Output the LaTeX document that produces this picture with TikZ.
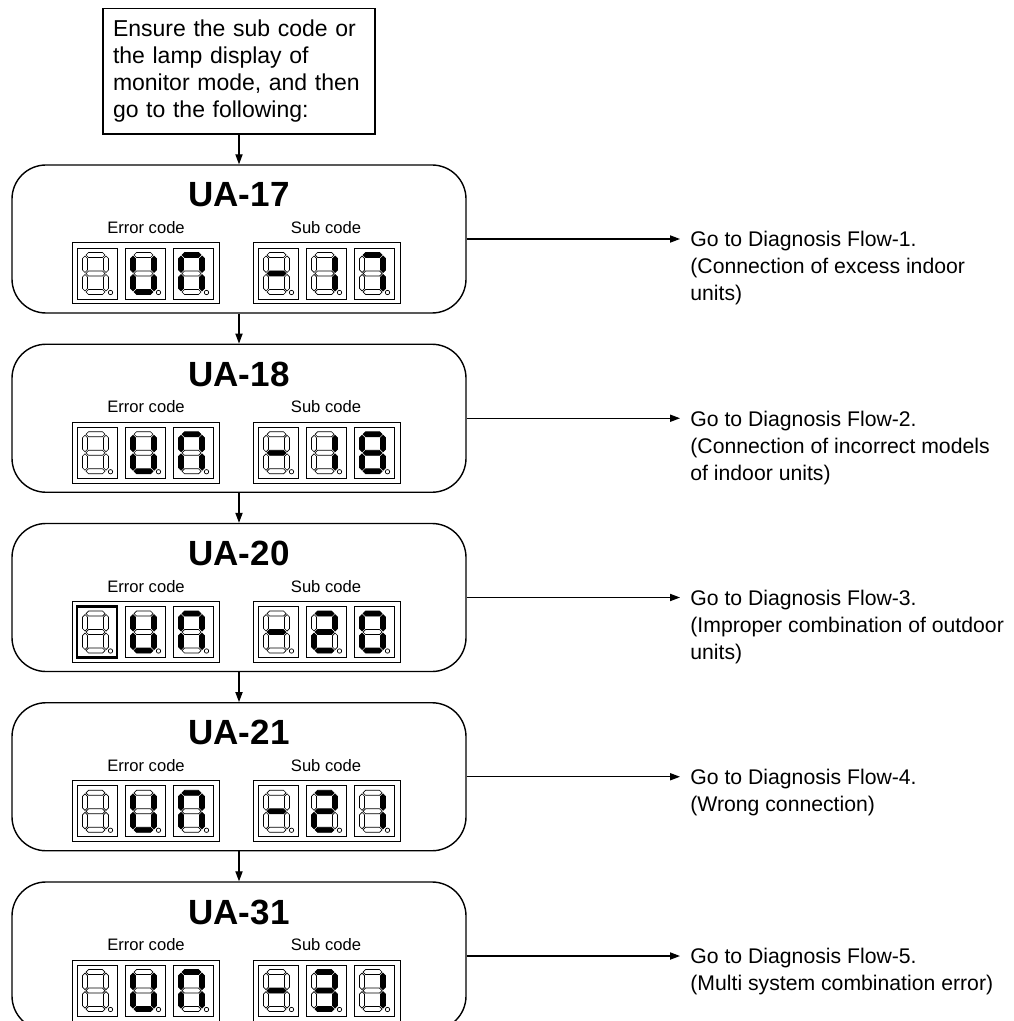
\documentclass[tikz,border=0pt]{standalone}
\usepackage{fontspec}
\setmainfont{Liberation Sans}
\usetikzlibrary{arrows.meta,positioning}

\tikzset{
  seg0/.style={draw=black, line width=0.35pt},
  seg1/.style={fill=black, draw=black, line width=0.35pt},
  digitframe/.style={line width=0.45pt},
}

% one segment of a seven segment digit (#1 = 0 off, 1 on)
\newcommand{\segH}[2]{\path[seg#1] (9,#2) -- ++(2.5,-2.5) -- ++(14,0) -- ++(2.5,2.5) -- ++(-2.5,2.5) -- ++(-14,0) -- cycle;}
\newcommand{\segV}[3]{\path[seg#1] (#2,#3) -- ++(2.5,2.5) -- ++(0,11.5) -- ++(-2.5,2.5) -- ++(-2.5,-2.5) -- ++(0,-11.5) -- cycle;}
% pattern in the order a b c d e f g
\def\segpattern#1#2#3#4#5#6#7{%
  \segH{#1}{7}\segV{#2}{29}{8}\segV{#3}{29}{26.5}\segH{#4}{44}%
  \segV{#5}{8}{26.5}\segV{#6}{8}{8}\segH{#7}{25.5}}
\newcommand{\sevenseg}[3]{%
  \begin{scope}[shift={(#1,#2)}]
    \draw[digitframe] (0,0) rectangle (40,51);
    \expandafter\segpattern#3
    \draw[seg0] (33.5,44.5) circle (1.1pt);
  \end{scope}}

\begin{document}
\begin{tikzpicture}[x=0.5pt, y=-0.5pt,
    introbox/.style={draw, line width=0.6pt, text width=126pt, align=left,
      inner xsep=5pt, inner ysep=5.75pt, font=\fontsize{11.5pt}{13.5pt}\selectfont},
    codebox/.style={draw, line width=0.7pt, rounded corners=17pt,
      minimum width=227pt, minimum height=74pt, inner sep=0pt},
    codetitle/.style={font=\fontsize{17.5pt}{20pt}\selectfont\bfseries, inner sep=0pt},
    codelabel/.style={font=\fontsize{8.3pt}{10pt}\selectfont, inner sep=0pt},
    dispframe/.style={line width=0.5pt},
    flowtext/.style={align=left, inner xsep=5pt, inner ysep=0pt,
      font=\fontsize{10.6pt}{13.5pt}\selectfont},
    flowarrow/.style={-{Triangle[length=5pt,width=3.6pt]}, line width=0.6pt}]
  \useasboundingbox (0,0) rectangle (1013,1021);
  \clip (0,0) rectangle (1013,1021);

  \node[introbox, anchor=north] (intro) at (239,8)
    {Ensure the sub code or\\the lamp display of\\monitor mode, and then\\go to the following:};

  % one row per error code
  \foreach \k/\code/\da/\db/\dc/\txt in {
      0/17/0000001/0110000/1110000/{Go to Diagnosis Flow-1.\\(Connection of excess indoor\\units)},
      1/18/0000001/0110000/1111111/{Go to Diagnosis Flow-2.\\(Connection of incorrect models\\of indoor units)},
      2/20/0000001/1101101/1111110/{Go to Diagnosis Flow-3.\\(Improper combination of outdoor\\units)},
      3/21/0000001/1101101/0110000/{Go to Diagnosis Flow-4.\\(Wrong connection)},
      4/31/0000001/1111001/0110000/{Go to Diagnosis Flow-5.\\(Multi system combination error)}}{
    \pgfmathsetmacro{\y}{165+179.25*\k}
    \node[codebox] (box\k) at (239,\y+74) {};
    \node[codetitle, anchor=base] (title\k) at (239,\y+42) {UA-\code};
    \node[codelabel, anchor=base] (err\k) at (146,\y+68.5) {Error code};
    \node[codelabel, anchor=base] (sub\k) at (326,\y+68.5) {Sub code};
    \draw[dispframe] (72,\y+78) rectangle (219,\y+139);
    \draw[dispframe] (253,\y+78) rectangle (400,\y+139);
    \sevenseg{77}{\y+83}{0000000}
    \sevenseg{125}{\y+83}{0111110}
    \sevenseg{173}{\y+83}{1110110}
    \sevenseg{258}{\y+83}{\da}
    \sevenseg{306}{\y+83}{\db}
    \sevenseg{354}{\y+83}{\dc}
    \ifnum\k=2 \draw[line width=1.1pt] (77,\y+83) rectangle ++(40,51);\fi
    \node[flowtext, anchor=north west] (flow\k) at (680,\y+66) {\txt};
    \draw[flowarrow] (box\k.east) -- (box\k.east -| flow\k.west);
  }

  \foreach \a/\b in {intro/box0, box0/box1, box1/box2, box2/box3, box3/box4}
    \draw[flowarrow] (\a.south) -- (\b.north);
\end{tikzpicture}
\end{document}
